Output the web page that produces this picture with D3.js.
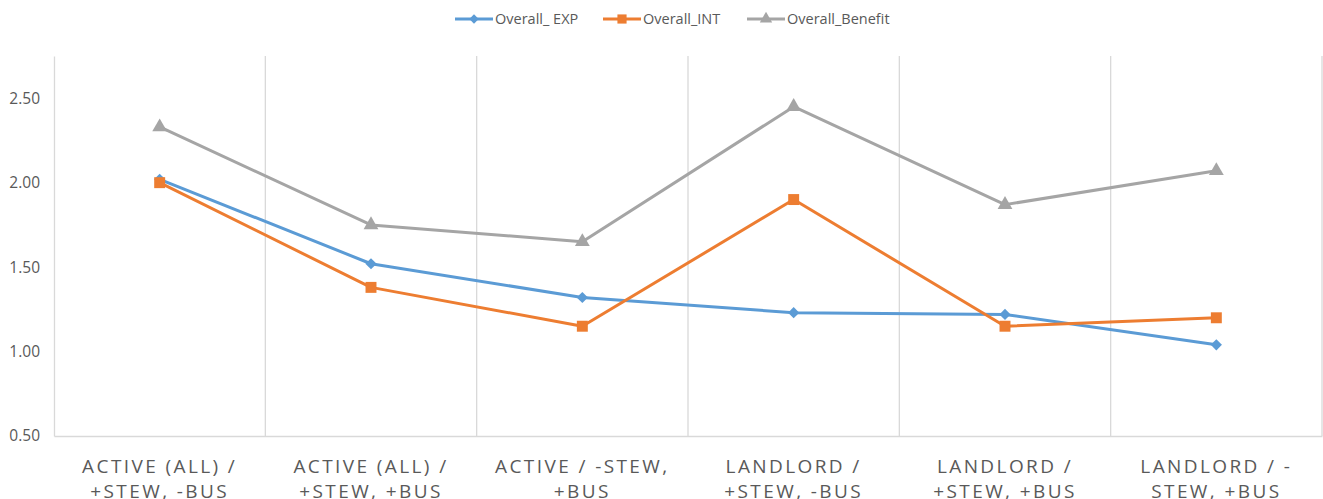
<!DOCTYPE html>
<html><head><meta charset="utf-8">
<script src="https://cdn.jsdelivr.net/npm/d3@7"></script>
<style>body{margin:0;background:#fff;} svg{display:block;}</style>
</head><body>
<svg id="chart" width="1323" height="499"></svg>
<script>
const categories = [
  ["ACTIVE (ALL) /", "+STEW, -BUS"],
  ["ACTIVE (ALL) /", "+STEW, +BUS"],
  ["ACTIVE / -STEW,", "+BUS"],
  ["LANDLORD /", "+STEW, -BUS"],
  ["LANDLORD /", "+STEW, +BUS"],
  ["LANDLORD / -", "STEW, +BUS"]
];
const seriesNames = ["Overall_ EXP", "Overall_INT", "Overall_Benefit"];
const expValues = [2.02, 1.52, 1.32, 1.23, 1.22, 1.04];
const intValues = [2.00, 1.38, 1.15, 1.90, 1.15, 1.20];
const benefitValues = [2.33, 1.75, 1.65, 2.45, 1.87, 2.07];
const yTicks = [0.5, 1.0, 1.5, 2.0, 2.5];

const series = [
  {name: seriesNames[0], values: expValues, color: "#5b9bd5", marker: d3.symbolDiamond2, size: 80},
  {name: seriesNames[1], values: intValues, color: "#ed7d31", marker: d3.symbolSquare, size: 120},
  {name: seriesNames[2], values: benefitValues, color: "#a5a5a5", marker: d3.symbolTriangle, size: 95}
];

const svg = d3.select("#chart");
const mLeft = 54, mRight = 1322, mTop = 56, mBottom = 436;

const x = d3.scaleBand().domain(d3.range(categories.length)).range([mLeft, mRight]).padding(0);
const y = d3.scaleLinear().domain([0.5, 2.75]).range([mBottom, mTop]);

// vertical separators
const bounds = d3.range(1, categories.length + 1).map(i => mLeft + i * x.bandwidth());
svg.append("g").selectAll("line").data(bounds).join("line")
  .attr("x1", d => d).attr("x2", d => d).attr("y1", mTop).attr("y2", mBottom)
  .attr("stroke", "#d9d9d9").attr("stroke-width", 1.3);

// axes
const yAxis = d3.axisLeft(y).tickValues(yTicks).tickFormat(d3.format(".2f")).tickSize(0).tickPadding(14);
const gy = svg.append("g").attr("transform", `translate(${mLeft},0)`).call(yAxis);
gy.select(".domain").attr("stroke", "#d9d9d9").attr("stroke-width", 1.3);
gy.selectAll("text").attr("font-family", "'Open Sans', sans-serif").attr("font-size", 15.5).attr("fill", "#595959");

const xAxis = d3.axisBottom(x).tickSize(0).tickFormat(() => "");
const gx = svg.append("g").attr("transform", `translate(0,${mBottom})`).call(xAxis);
gx.select(".domain").attr("stroke", "#d9d9d9").attr("stroke-width", 1.3);
gx.selectAll(".tick").each(function(d) {
  const t = d3.select(this).append("text")
    .attr("text-anchor", "middle")
    .attr("font-family", "'Open Sans', sans-serif")
    .attr("font-size", 19)
    .attr("letter-spacing", "2.4px")
    .attr("fill", "#595959");
  categories[d].forEach((ln, i) => {
    t.append("tspan").attr("x", 0).attr("y", 37 + i * 25).text(ln);
  });
});

const cx = i => x(i) + x.bandwidth() / 2;
const line = d3.line().x((d, i) => cx(i)).y(d => y(d));

series.forEach(s => {
  svg.append("path").datum(s.values).attr("d", line)
    .attr("fill", "none").attr("stroke", s.color).attr("stroke-width", 3)
    .attr("stroke-linejoin", "round");
  svg.append("g").selectAll("path").data(s.values).join("path")
    .attr("d", d3.symbol().type(s.marker).size(s.size))
    .attr("transform", (d, i) => `translate(${cx(i)},${y(d)})`)
    .attr("fill", s.color);
});

// legend
const legendX = [455, 603, 747];
const lg = svg.append("g");
series.forEach((s, i) => {
  const g = lg.append("g").attr("transform", `translate(${legendX[i]},19)`);
  g.append("line").attr("x1", 0).attr("x2", 38).attr("y1", 0).attr("y2", 0)
    .attr("stroke", s.color).attr("stroke-width", 3);
  g.append("path").attr("d", d3.symbol().type(s.marker).size(s.size * 0.7))
    .attr("transform", "translate(19,0)").attr("fill", s.color);
  g.append("text").attr("x", 40).attr("y", 0).attr("dy", "0.35em")
    .attr("font-family", "'Open Sans', sans-serif").attr("font-size", 14.5)
    .attr("fill", "#595959").text(s.name);
});
</script>
</body></html>
